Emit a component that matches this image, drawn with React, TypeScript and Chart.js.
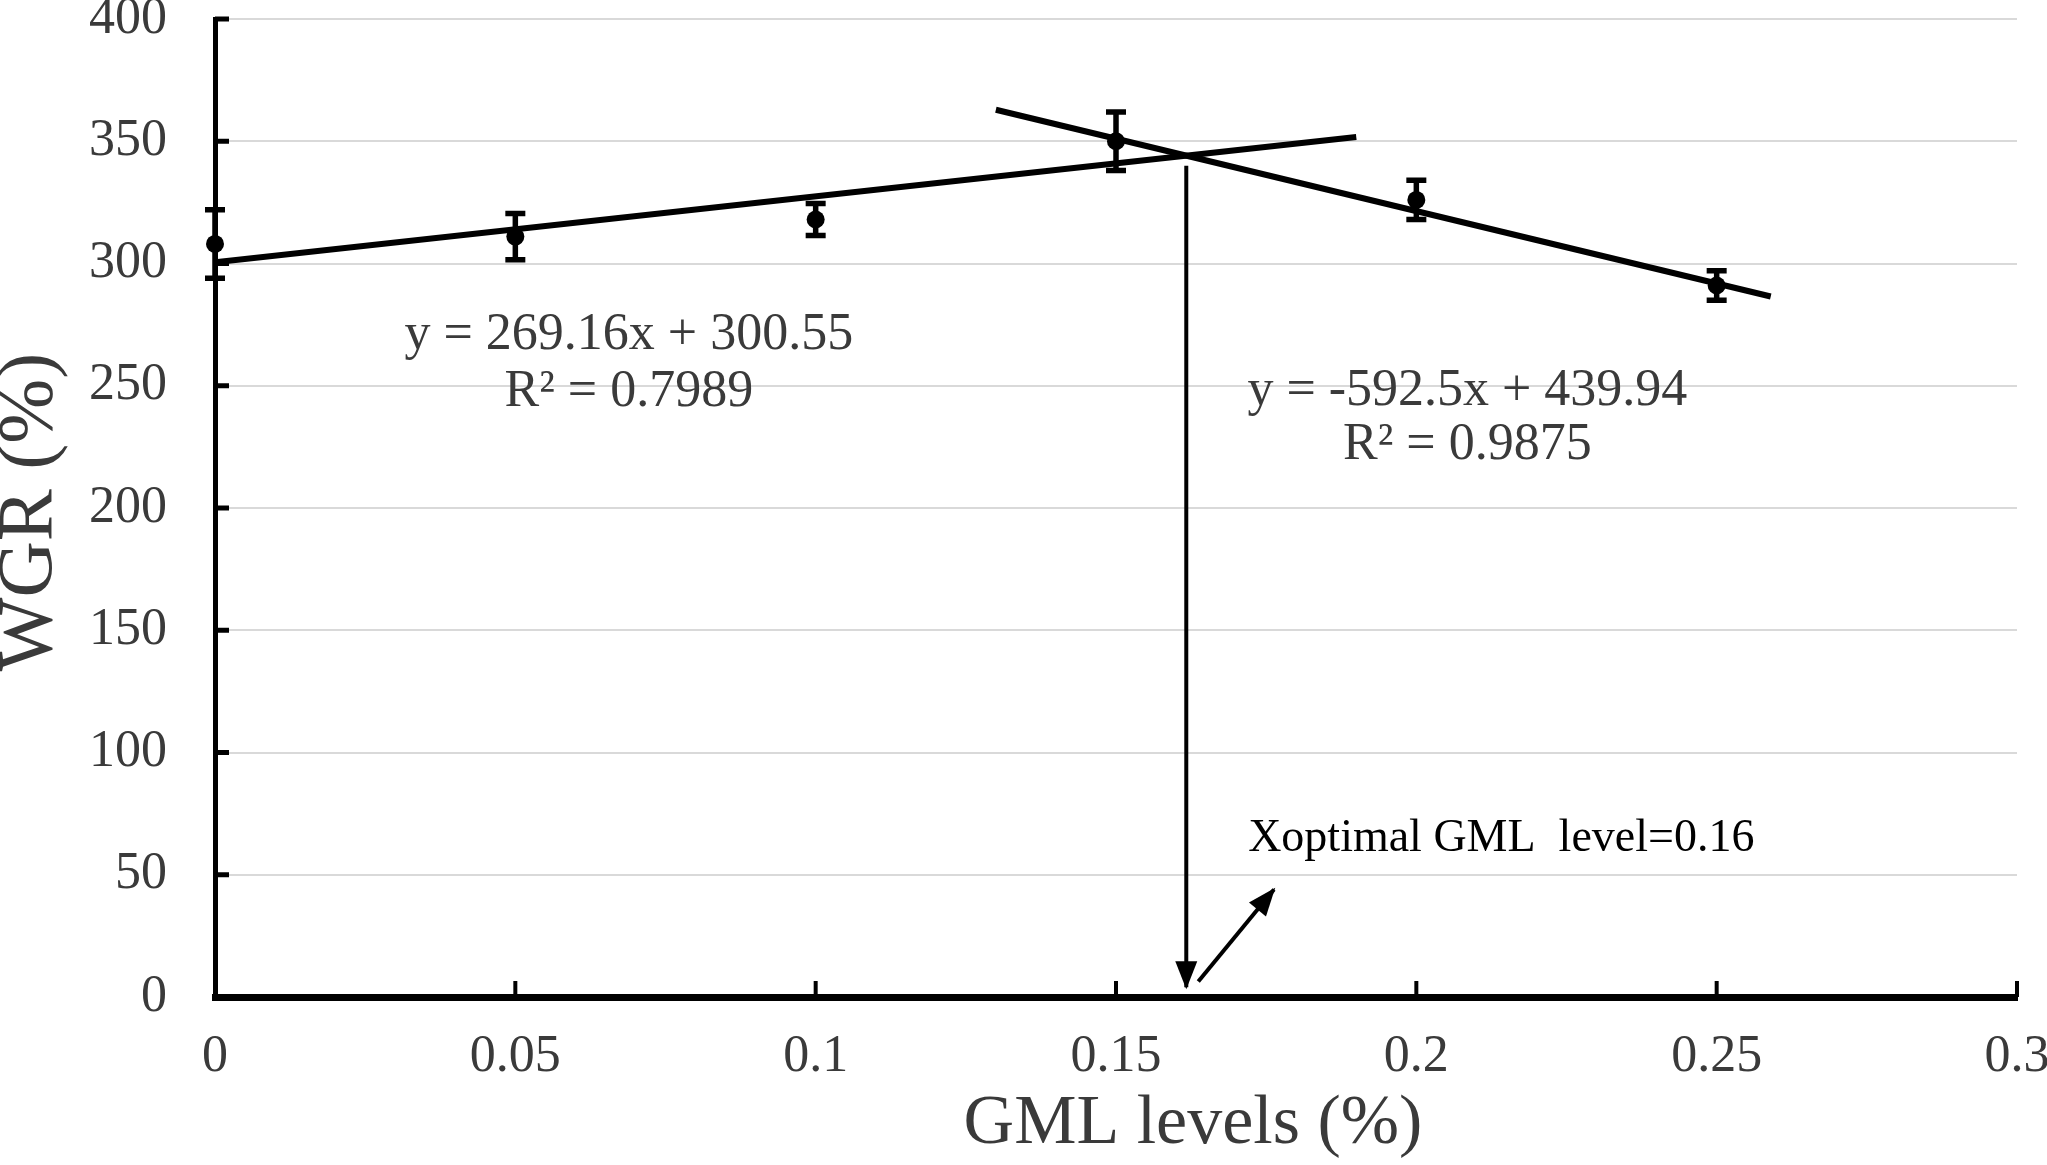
import React, { useEffect, useRef } from 'react';
import { Chart, registerables } from 'chart.js';

Chart.register(...registerables);

// ---- data ----
const xLevels = [0, 0.05, 0.1, 0.15, 0.2, 0.25];
const wgr = [308, 311, 318, 350, 326, 291];
const wgrErr = [14, 9.5, 6.5, 12, 8, 6];

// trend line end points (from the fitted equations shown on the chart)
const trendAX = [0, 0.19];
const trendAY = [300.55, 351.7];
const trendBX = [0.13, 0.259];
const trendBY = [362.9, 286.5];

// arrows (start -> tip)
const arrowDownX = [0.1617, 0.1617];
const arrowDownY = [340, 4];
const arrowDiagX = [0.1637, 0.1763];
const arrowDiagY = [6.3, 44];

const xTickValues = [0, 0.05, 0.1, 0.15, 0.2, 0.25, 0.3];
const xTickLabels = ['0', '0.05', '0.1', '0.15', '0.2', '0.25', '0.3'];
const yTickValues = [0, 50, 100, 150, 200, 250, 300, 350, 400];
const yTickLabels = ['0', '50', '100', '150', '200', '250', '300', '350', '400'];

const eqA = ['y = 269.16x + 300.55', 'R\u00B2 = 0.7989'];
const eqB = ['y = -592.5x + 439.94', 'R\u00B2 = 0.9875'];
const optimumLabel = 'Xoptimal GML  level=0.16';
const xTitle = 'GML levels (%)';
const yTitle = 'WGR (%)';

const FONT = "'Liberation Serif', 'Times New Roman', serif";
const TEXT = '#3a3a3a';

const OFFSET_Y = 61;
const CW = 2120;
const CH = 1165 + OFFSET_Y;
const PLOT_TOP = 19 + OFFSET_Y;
const PLOT_BOTTOM = 997 + OFFSET_Y;

const toXY = (xs: number[], ys: number[]) => xs.map((x, i) => ({ x, y: ys[i] }));

const decorPlugin = {
  id: 'decor',
  beforeDatasetsDraw(chart: any) {
    const { ctx, chartArea, scales } = chart;
    const xs = scales.x;
    const ys = scales.y;
    ctx.save();
    ctx.strokeStyle = '#000';
    // inward ticks on y axis
    ctx.lineWidth = 5;
    yTickValues.forEach((v) => {
      if (v === 0) return;
      const py = ys.getPixelForValue(v);
      ctx.beginPath();
      ctx.moveTo(chartArea.left, py);
      ctx.lineTo(chartArea.left + 14, py);
      ctx.stroke();
    });
    // inward ticks on x axis
    ctx.lineWidth = 4;
    xTickValues.forEach((v) => {
      const px = xs.getPixelForValue(v);
      ctx.beginPath();
      ctx.moveTo(px, chartArea.bottom);
      ctx.lineTo(px, chartArea.bottom - 16);
      ctx.stroke();
    });
    ctx.restore();
  },
  afterDatasetsDraw(chart: any) {
    const { ctx, chartArea, scales } = chart;
    const xs = scales.x;
    const ys = scales.y;
    ctx.save();
    // error bars
    ctx.strokeStyle = '#000';
    ctx.lineWidth = 5.5;
    xLevels.forEach((xv, i) => {
      const px = xs.getPixelForValue(xv);
      const pTop = ys.getPixelForValue(wgr[i] + wgrErr[i]);
      const pBot = ys.getPixelForValue(wgr[i] - wgrErr[i]);
      ctx.beginPath();
      ctx.moveTo(px, pTop);
      ctx.lineTo(px, pBot);
      ctx.moveTo(px - 10, pTop);
      ctx.lineTo(px + 10, pTop);
      ctx.moveTo(px - 10, pBot);
      ctx.lineTo(px + 10, pBot);
      ctx.stroke();
    });
    // arrow heads on arrow datasets
    [3, 4].forEach((di) => {
      const pts = chart.getDatasetMeta(di).data;
      if (!pts || pts.length < 2) return;
      const a = pts[pts.length - 2];
      const b = pts[pts.length - 1];
      const dx = b.x - a.x;
      const dy = b.y - a.y;
      const len = Math.hypot(dx, dy) || 1;
      const ux = dx / len;
      const uy = dy / len;
      const L = 26;
      const W = 11;
      const bx = b.x - ux * L;
      const by = b.y - uy * L;
      ctx.fillStyle = '#000';
      ctx.beginPath();
      ctx.moveTo(b.x + ux * 2, b.y + uy * 2);
      ctx.lineTo(bx - uy * W, by + ux * W);
      ctx.lineTo(bx + uy * W, by - ux * W);
      ctx.closePath();
      ctx.fill();
    });
    // equation labels
    ctx.fillStyle = TEXT;
    ctx.textAlign = 'center';
    ctx.textBaseline = 'middle';
    ctx.font = `52px ${FONT}`;
    ctx.fillText(eqA[0], xs.getPixelForValue(0.0689), ys.getPixelForValue(270.8));
    ctx.fillText(eqA[1], xs.getPixelForValue(0.0689), ys.getPixelForValue(247.4));
    ctx.fillText(eqB[0], xs.getPixelForValue(0.2085), ys.getPixelForValue(247.8));
    ctx.fillText(eqB[1], xs.getPixelForValue(0.2085), ys.getPixelForValue(225.8));
    // optimum label
    ctx.fillStyle = '#000';
    ctx.textAlign = 'left';
    ctx.font = `46px ${FONT}`;
    ctx.fillText(optimumLabel, xs.getPixelForValue(0.172), ys.getPixelForValue(64.6));
    // axis titles
    ctx.fillStyle = TEXT;
    ctx.textAlign = 'center';
    ctx.font = `70px ${FONT}`;
    ctx.fillText(xTitle, 1193, 1125 + OFFSET_Y);
    ctx.save();
    ctx.translate(31, (chartArea.top + chartArea.bottom) / 2 + 4);
    ctx.rotate(-Math.PI / 2);
    ctx.font = `78px ${FONT}`;
    ctx.fillText(yTitle, 0, 0);
    ctx.restore();
    ctx.restore();
  },
};

export default function App() {
  const ref = useRef<HTMLCanvasElement>(null);

  useEffect(() => {
    if (!ref.current) return;
    const lineCommon = {
      showLine: true,
      pointRadius: 0,
      borderColor: '#000',
      backgroundColor: '#000',
      fill: false,
      tension: 0,
    };
    const chart = new Chart(ref.current, {
      type: 'scatter',
      data: {
        datasets: [
          { ...lineCommon, label: 'trendA', data: toXY(trendAX, trendAY), borderWidth: 6, order: 0 },
          { ...lineCommon, label: 'trendB', data: toXY(trendBX, trendBY), borderWidth: 6, order: 0 },
          {
            label: 'WGR',
            data: toXY(xLevels, wgr),
            showLine: false,
            pointRadius: 9,
            pointBackgroundColor: '#000',
            pointBorderColor: '#000',
            pointBorderWidth: 0,
            order: 1,
            clip: false,
          } as any,
          { ...lineCommon, label: 'arrowDown', data: toXY(arrowDownX, arrowDownY), borderWidth: 4, order: 0 },
          { ...lineCommon, label: 'arrowDiag', data: toXY(arrowDiagX, arrowDiagY), borderWidth: 4, order: 0 },
        ],
      },
      options: {
        responsive: false,
        animation: false,
        devicePixelRatio: 1,
        events: [],
        layout: { padding: { left: 0, top: PLOT_TOP, right: CW - 2017, bottom: 0 } },
        plugins: {
          legend: { display: false },
          tooltip: { enabled: false },
          title: { display: false },
        },
        scales: {
          x: {
            type: 'linear',
            min: 0,
            max: 0.3,
            afterBuildTicks: (s: any) => {
              s.ticks = xTickValues.map((v) => ({ value: v }));
            },
            afterFit: (s: any) => {
              s.height = CH - PLOT_BOTTOM;
            },
            grid: { display: false, drawTicks: false },
            border: { display: true, color: '#000', width: 7 },
            ticks: {
              autoSkip: false,
              maxRotation: 0,
              padding: 29,
              color: TEXT,
              font: { family: FONT, size: 52 },
              callback: (_v: any, i: number) => xTickLabels[i],
            },
          },
          y: {
            type: 'linear',
            min: 0,
            max: 400,
            afterBuildTicks: (s: any) => {
              s.ticks = yTickValues.map((v) => ({ value: v }));
            },
            afterFit: (s: any) => {
              s.width = 215;
            },
            grid: { display: true, drawTicks: false, color: '#d9d9d9', lineWidth: 2 },
            border: { display: true, color: '#000', width: 5 },
            ticks: {
              autoSkip: false,
              padding: 48,
              color: TEXT,
              font: { family: FONT, size: 52 },
              callback: (_v: any, i: number) => yTickLabels[i],
            },
          },
        },
      },
      plugins: [decorPlugin],
    } as any);
    return () => chart.destroy();
  }, []);

  return (
    <div
      style={{
        position: 'fixed',
        left: 0,
        top: 0,
        width: 2047,
        height: 1165,
        overflow: 'hidden',
        background: '#fff',
      }}
    >
      <canvas
        ref={ref}
        width={CW}
        height={CH}
        style={{ position: 'absolute', left: 0, top: -OFFSET_Y, width: CW, height: CH }}
      />
    </div>
  );
}
